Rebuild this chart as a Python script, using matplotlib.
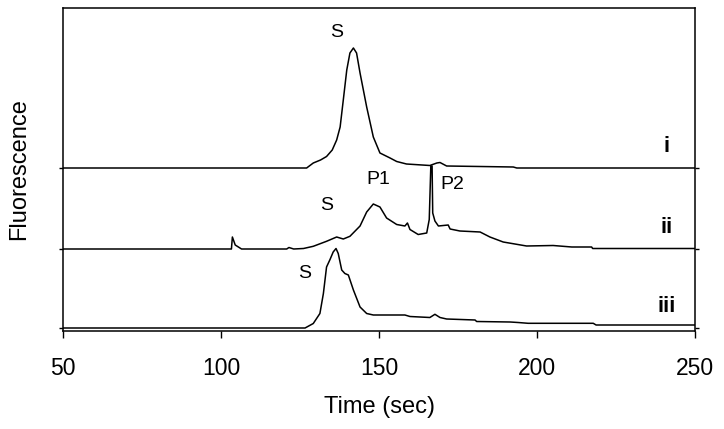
import matplotlib
matplotlib.use("Agg")

import matplotlib.pyplot as plt
import numpy as np

plt.rcParams["font.family"] = ["Liberation Sans", "DejaVu Sans"]

# electropherogram traces (time in s, signal in a.u.)
time_i = [50, 127.1, 129.2, 131.5, 133.4, 135.2, 136.6, 137.7, 138.7, 139.8,
          140.8, 141.9, 142.9, 144.0, 146.1, 148.2, 150.3, 153.5, 155.6, 158.7,
          166.1, 168.3, 169.3, 171.4, 192.5, 193.6, 250]
signal_i = [0, 0, 5, 8, 11.5, 18, 28, 41, 68, 98,
            115, 120, 115, 95, 61, 31, 15, 10, 6.5, 4,
            2.5, 5, 5.5, 2, 1, 0, 0]

time_ii = [50, 103.3, 103.6, 104.5, 106.5, 120.8, 121.5, 123, 126.1, 129.2,
           133.4, 136.6, 138.7, 140.8, 144.0, 146.1, 148.2, 150.3, 152.4, 155.6,
           158.2, 159.0, 159.8, 162.4, 165.1, 165.9, 166.4, 166.8, 167.0, 167.7,
           168.8, 171.9, 172.5, 175.6, 182.0, 185.1, 189.3, 196.7, 205.1, 211.0,
           217.3, 217.6, 250]
signal_ii = [0, 0, 12, 4, 0, 0, 1.5, 0, 0.5, 2.7,
             7.7, 12, 10, 12.7, 23, 37, 45, 42, 31, 24.5,
             23, 26, 19.5, 14.5, 16, 29.5, 83, 83, 36, 28,
             23, 24, 20, 18, 17, 12, 7, 3, 3.5, 2,
             2, 0.5, 0.5]

time_iii = [50, 126.6, 129.2, 131.3, 132.4, 133.4, 134.5, 135.5, 136.4, 137.1,
            138.2, 139.2, 140.3, 141.9, 144.0, 146.1, 148.2, 158.2, 159.8, 166.1,
            167.7, 169.3, 171.4, 180.4, 180.9, 191.5, 194, 197.2, 217.8, 218.7,
            250]
signal_iii = [0, 0, 4.5, 14.5, 34.5, 61, 68.5, 76, 79.5, 74.5,
              58, 54.5, 53, 38, 21, 14.5, 13, 13, 11.5, 10.5,
              13.7, 10.5, 9, 8, 6.5, 6, 5.5, 4.7, 4.7, 3,
              3]

offsets = [160, 79, 0]
trace_names = ["i", "ii", "iii"]

peak_labels = ["S", "S", "P1", "P2", "S"]
peak_times = [136.7, 133.5, 149.7, 173.1, 126.6]
peak_y = [295, 122, 148, 143, 55]

x_ticks = [50, 100, 150, 200, 250]

fig = plt.figure(figsize=(7.24, 4.29), dpi=100)
ax = fig.add_axes([63 / 724, 98 / 429, 632 / 724, 323 / 429])

traces = [(time_i, signal_i), (time_ii, signal_ii), (time_iii, signal_iii)]
for (t, s), off in zip(traces, offsets):
    ax.plot(t, np.asarray(s) + off, color="black", lw=1.1)

for name, off in zip(trace_names, offsets):
    ax.text(241, off + 21, name, fontsize=16, fontweight="bold",
            ha="center", va="center")

for lab, t, y in zip(peak_labels, peak_times, peak_y):
    ax.text(t, y, lab, fontsize=14, ha="center", va="center")

ax.set_xlim(50, 250)
ax.set_ylim(-3, 320)
ax.set_xticks(x_ticks)
ax.set_yticks(offsets)
ax.set_yticklabels([])
ax.tick_params(axis="x", direction="out", length=5, width=1, labelsize=16.5, pad=14)
ax.tick_params(axis="y", direction="out", length=3, width=1, right=True)

for sp in ax.spines.values():
    sp.set_linewidth(1.1)

ax.set_xlabel("Time (sec)", fontsize=17, labelpad=11)
ax.set_ylabel("Fluorescence", fontsize=17, labelpad=17)

fig.savefig("out.png", dpi=100)
